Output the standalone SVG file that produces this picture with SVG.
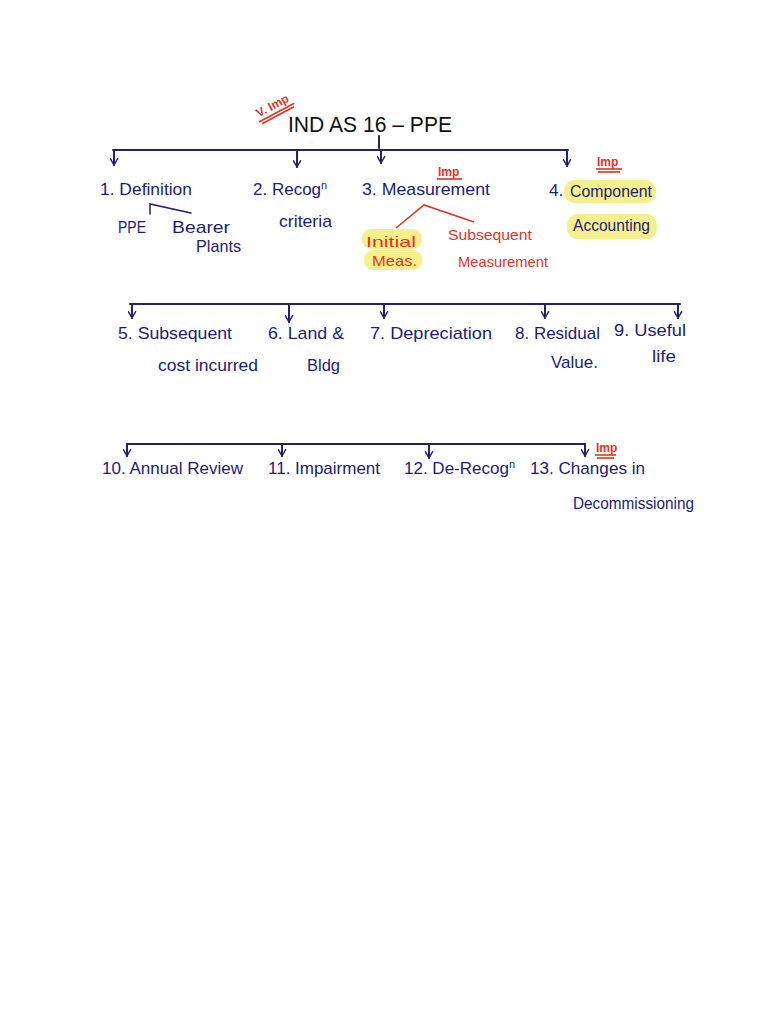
<svg xmlns="http://www.w3.org/2000/svg" width="768" height="1024" viewBox="0 0 768 1024">
<style>
.bg{fill:#ffffff}
.t{font-family:"Liberation Sans","DejaVu Sans",sans-serif;fill:#1c1c7a;font-size:17px}
.title{font-family:"Liberation Sans","DejaVu Sans",sans-serif;fill:#111111;font-size:22px}
.r{font-family:"Liberation Sans","DejaVu Sans",sans-serif;fill:#e8301e;font-size:15px}
.imp{font-family:"Liberation Sans","DejaVu Sans",sans-serif;fill:#e8301e;font-size:12px;font-weight:bold}
.ln{stroke:#22226e;stroke-width:2;fill:none;stroke-linecap:round}
.arr{stroke:#22226e;stroke-width:2;fill:none;marker-end:url(#ah);stroke-linecap:round}
.rl{stroke:#e8301e;stroke-width:1.6;fill:none}
.ul{stroke:#e8301e;stroke-width:1.6;fill:none}
.hl{fill:#f6f08c}
</style>
<defs>
<marker id="ah" viewBox="0 0 10 10" refX="9" refY="5" markerWidth="9" markerHeight="9" orient="auto" markerUnits="userSpaceOnUse">
<path d="M2,1 L9,5 L2,9" fill="none" stroke="#22226e" stroke-width="1.6" stroke-linecap="round"/>
</marker>
</defs>
<rect class="bg" x="0" y="0" width="768" height="1024"/>

<g id="connectors">
<line class="ln" x1="379" y1="136" x2="379" y2="148"/>
<line class="ln" x1="113" y1="150" x2="568" y2="150"/>
<line class="arr" x1="114" y1="150" x2="114" y2="165"/>
<line class="arr" x1="297" y1="150" x2="297" y2="167"/>
<line class="arr" x1="381" y1="150" x2="381" y2="163"/>
<line class="arr" x1="567" y1="150" x2="567" y2="166"/>
<polyline class="ln" style="stroke-width:1.5" points="150,214 150,204 191,213"/>
<polyline class="rl" points="396,228 424,205 474,222"/>
<line class="ln" x1="130" y1="304" x2="680" y2="304"/>
<line class="arr" x1="132" y1="304" x2="132" y2="318"/>
<line class="arr" x1="289" y1="304" x2="289" y2="322"/>
<line class="arr" x1="384" y1="304" x2="384" y2="318"/>
<line class="arr" x1="545" y1="304" x2="545" y2="318"/>
<line class="arr" x1="678" y1="304" x2="678" y2="318"/>
<line class="ln" x1="127" y1="444" x2="585" y2="444"/>
<line class="arr" x1="127" y1="444" x2="127" y2="456"/>
<line class="arr" x1="282" y1="444" x2="282" y2="456"/>
<line class="arr" x1="429" y1="444" x2="429" y2="458"/>
<line class="arr" x1="585" y1="444" x2="585" y2="456"/>
</g>

<g id="title">
<text class="title" x="288" y="132" textLength="164" lengthAdjust="spacingAndGlyphs">IND AS 16 – PPE</text>
<g transform="rotate(-28 272 106)">
<text class="imp" x="255" y="110" font-size="13">V. Imp</text>
<line class="ul" x1="253" y1="114" x2="293" y2="114"/>
<line class="ul" x1="255" y1="117" x2="291" y2="117"/>
</g>
</g>

<g id="n1">
<text class="t" x="100" y="195" textLength="92" lengthAdjust="spacingAndGlyphs">1. Definition</text>
</g>
<g id="n1a"><text class="t" x="118" y="233" font-size="14" textLength="28" lengthAdjust="spacingAndGlyphs">PPE</text></g>
<g id="n1b">
<text class="t" x="172" y="233" font-size="14" textLength="58" lengthAdjust="spacingAndGlyphs">Bearer</text>
<text class="t" x="196" y="252" font-size="14" textLength="45" lengthAdjust="spacingAndGlyphs">Plants</text>
</g>

<g id="n2">
<text class="t" x="253" y="195">2. Recog<tspan dy="-6" font-size="11">n</tspan></text>
<text class="t" x="279" y="227" font-size="15" textLength="53" lengthAdjust="spacingAndGlyphs">criteria</text>
</g>

<g id="n3">
<text class="imp" x="438" y="176">Imp</text>
<line class="ul" x1="437" y1="179" x2="462" y2="179"/>
<text class="t" x="362" y="195" textLength="128" lengthAdjust="spacingAndGlyphs">3. Measurement</text>
</g>
<g id="n3a">
<rect class="hl" x="362" y="229" width="60" height="20" rx="9"/>
<rect class="hl" x="364" y="250" width="58" height="20" rx="9"/>
<text class="r" x="366" y="247" textLength="50" lengthAdjust="spacingAndGlyphs">Initial</text>
<text class="r" x="372" y="266" textLength="45" lengthAdjust="spacingAndGlyphs">Meas.</text>
</g>
<g id="n3b">
<text class="r" x="448" y="240" textLength="84" lengthAdjust="spacingAndGlyphs">Subsequent</text>
<text class="r" x="458" y="267" textLength="90" lengthAdjust="spacingAndGlyphs">Measurement</text>
</g>

<g id="n4">
<text class="imp" x="597" y="166">Imp</text>
<line class="ul" x1="596" y1="169" x2="622" y2="169"/>
<line class="ul" x1="598" y1="172" x2="620" y2="172"/>
<rect class="hl" x="564" y="180" width="92" height="23" rx="11"/>
<rect class="hl" x="567" y="214" width="90" height="25" rx="11"/>
<text class="t" x="549" y="196">4.</text>
<text class="t" x="570" y="197" font-size="15" textLength="82" lengthAdjust="spacingAndGlyphs">Component</text>
<text class="t" x="573" y="231" font-size="15" textLength="77" lengthAdjust="spacingAndGlyphs">Accounting</text>
</g>

<g id="n5">
<text class="t" x="118" y="339" textLength="114" lengthAdjust="spacingAndGlyphs">5. Subsequent</text>
<text class="t" x="158" y="371" textLength="100" lengthAdjust="spacingAndGlyphs">cost incurred</text>
</g>
<g id="n6">
<text class="t" x="268" y="339" textLength="76" lengthAdjust="spacingAndGlyphs">6. Land &amp;</text>
<text class="t" x="307" y="371" textLength="33" lengthAdjust="spacingAndGlyphs">Bldg</text>
</g>
<g id="n7">
<text class="t" x="370" y="339" textLength="122" lengthAdjust="spacingAndGlyphs">7. Depreciation</text>
</g>
<g id="n8">
<text class="t" x="515" y="339" textLength="85" lengthAdjust="spacingAndGlyphs">8. Residual</text>
<text class="t" x="551" y="368" textLength="47" lengthAdjust="spacingAndGlyphs">Value.</text>
</g>
<g id="n9">
<text class="t" x="614" y="336" textLength="72" lengthAdjust="spacingAndGlyphs">9. Useful</text>
<text class="t" x="652" y="362" textLength="24" lengthAdjust="spacingAndGlyphs">life</text>
</g>

<g id="n10">
<text class="t" x="102" y="474" textLength="141" lengthAdjust="spacingAndGlyphs">10. Annual Review</text>
</g>
<g id="n11">
<text class="t" x="268" y="474" textLength="112" lengthAdjust="spacingAndGlyphs">11. Impairment</text>
</g>
<g id="n12">
<text class="t" x="404" y="474">12. De-Recog<tspan dy="-6" font-size="11">n</tspan></text>
</g>
<g id="n13">
<text class="imp" x="596" y="452">Imp</text>
<line class="ul" x1="595" y1="455" x2="616" y2="455"/>
<line class="ul" x1="597" y1="458" x2="614" y2="458"/>
<text class="t" x="530" y="474" textLength="115" lengthAdjust="spacingAndGlyphs">13. Changes in</text>
<text class="t" x="573" y="509" textLength="121" lengthAdjust="spacingAndGlyphs">Decommissioning</text>
</g>
</svg>
